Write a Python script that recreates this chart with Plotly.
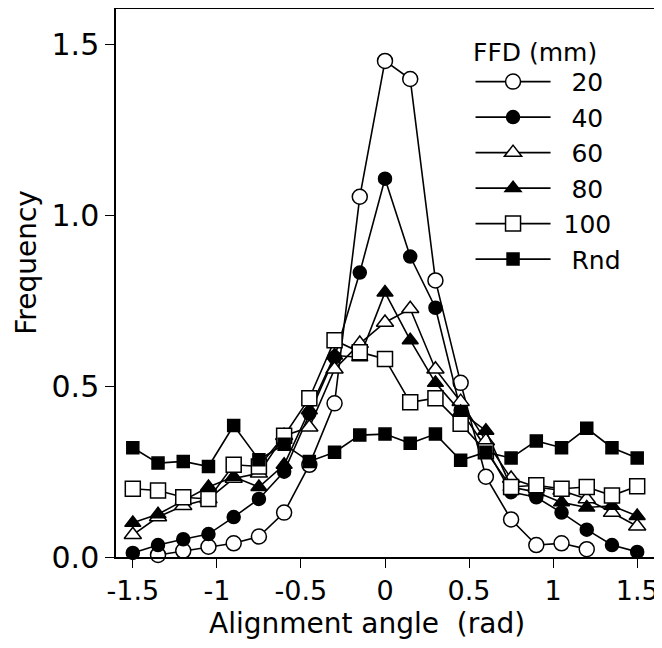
import plotly.graph_objects as go

angles = [-1.5, -1.35, -1.2, -1.05, -0.9, -0.75, -0.6, -0.45, -0.3, -0.15, 0.0,
          0.15, 0.3, 0.45, 0.6, 0.75, 0.9, 1.05, 1.2, 1.35, 1.5]

ffd_20 = [None, 0.006, 0.018, 0.03, 0.04, 0.06, 0.13, 0.27, 0.45, 1.055, 1.453,
          1.40, 0.81, 0.51, 0.235, 0.11, 0.035, 0.04, 0.023, None, None]
ffd_40 = [0.012, 0.035, 0.052, 0.067, 0.117, 0.17, 0.25, 0.42, 0.585, 0.833, 1.108,
          0.88, 0.73, 0.43, 0.32, 0.19, 0.175, 0.13, 0.08, 0.035, 0.015]
ffd_60 = [0.065, 0.117, 0.15, 0.17, 0.23, 0.245, 0.355, 0.38, 0.55, 0.625, 0.687,
          0.727, 0.55, 0.455, 0.34, 0.23, 0.205, 0.195, 0.17, 0.13, 0.09]
ffd_80 = [0.10, 0.125, 0.165, 0.205, 0.235, 0.205, 0.27, 0.43, 0.59, 0.585, 0.775,
          0.635, 0.51, 0.425, 0.37, 0.205, 0.19, 0.16, 0.145, 0.15, 0.12]
ffd_100 = [0.20, 0.195, 0.175, 0.17, 0.27, 0.265, 0.355, 0.465, 0.635, 0.60, 0.58,
           0.453, 0.465, 0.39, 0.31, 0.205, 0.21, 0.20, 0.205, 0.18, 0.207]
ffd_rnd = [0.32, 0.275, 0.28, 0.265, 0.385, 0.285, 0.33, 0.28, 0.307, 0.357, 0.36,
           0.333, 0.36, 0.283, 0.307, 0.29, 0.34, 0.32, 0.377, 0.32, 0.29]

series_names = ["20", "40", "60", "80", "100", "Rnd"]
legend_title = "FFD (mm)"
x_title = "Alignment angle\u00a0 (rad)"
y_title = "Frequency"
x_tick_vals = [-1.5, -1, -0.5, 0, 0.5, 1, 1.5]
x_tick_text = ["-1.5", "-1", "-0.5", "0", "0.5", "1", "1.5"]
y_tick_vals = [0.0, 0.5, 1.0, 1.5]
y_tick_text = ["0.0", "0.5", "1.0", "1.5"]

FONT = "DejaVu Sans, sans-serif"
NB = "\u00a0"

styles = [
    dict(symbol="circle", color="white", size=15),
    dict(symbol="circle", color="black", size=13),
    dict(symbol="triangle-up", color="white", size=15),
    dict(symbol="triangle-up", color="black", size=14),
    dict(symbol="square", color="white", size=15),
    dict(symbol="square", color="black", size=12),
]
data = [ffd_20, ffd_40, ffd_60, ffd_80, ffd_100, ffd_rnd]

fig = go.Figure()
for name, ys, st in zip(series_names, data, styles):
    pad = NB * (1 if len(name) == 3 and name.isdigit() else 2)
    fig.add_trace(go.Scatter(
        x=angles, y=ys, name=pad + name, mode="lines+markers",
        line=dict(color="black", width=1.6),
        marker=dict(symbol=st["symbol"], size=st["size"], color=st["color"],
                    line=dict(color="black", width=1.5)),
        cliponaxis=False,
    ))

# The page body has an 8px default margin, so margins compensate for it.
fig.update_layout(
    width=662, height=648,
    margin=dict(l=108, r=16, t=1, b=99, autoexpand=False),
    paper_bgcolor="white", plot_bgcolor="white",
    font=dict(family=FONT, size=26, color="black"),
    showlegend=True,
    legend=dict(
        x=0.659, y=0.909, xanchor="left", yanchor="top",
        font=dict(size=25), itemwidth=75,
        bgcolor="rgba(0,0,0,0)", tracegroupgap=0,
    ),
    annotations=[
        dict(text=legend_title, xref="paper", yref="paper",
             x=0.6596, y=0.9215, xanchor="left", yanchor="middle",
             showarrow=False, font=dict(size=25)),
        dict(text=x_title, xref="paper", yref="paper",
             x=0.4665, y=-0.122, xanchor="center", yanchor="middle",
             showarrow=False, font=dict(size=28)),
        dict(text=y_title, xref="paper", yref="paper",
             x=-0.1654, y=0.537, xanchor="center", yanchor="middle",
             textangle=-90, showarrow=False, font=dict(size=28)),
    ],
)
fig.update_xaxes(
    automargin=False,
    range=[-1.6, 1.6], tickmode="array", tickvals=x_tick_vals, ticktext=x_tick_text,
    ticks="outside", ticklen=9, tickwidth=1.3, tickcolor="black",
    showline=True, linecolor="black", linewidth=1.5, mirror=True,
    showgrid=False, zeroline=False,
    tickfont=dict(size=27),
)
fig.update_yaxes(
    automargin=False,
    range=[0, 1.605], tickmode="array", tickvals=y_tick_vals, ticktext=y_tick_text,
    ticks="outside", ticklen=9, tickwidth=1.3, tickcolor="black",
    showline=True, linecolor="black", linewidth=1.5, mirror=True,
    showgrid=False, zeroline=False,
    tickfont=dict(size=30),
)

fig.write_html("out.html")
